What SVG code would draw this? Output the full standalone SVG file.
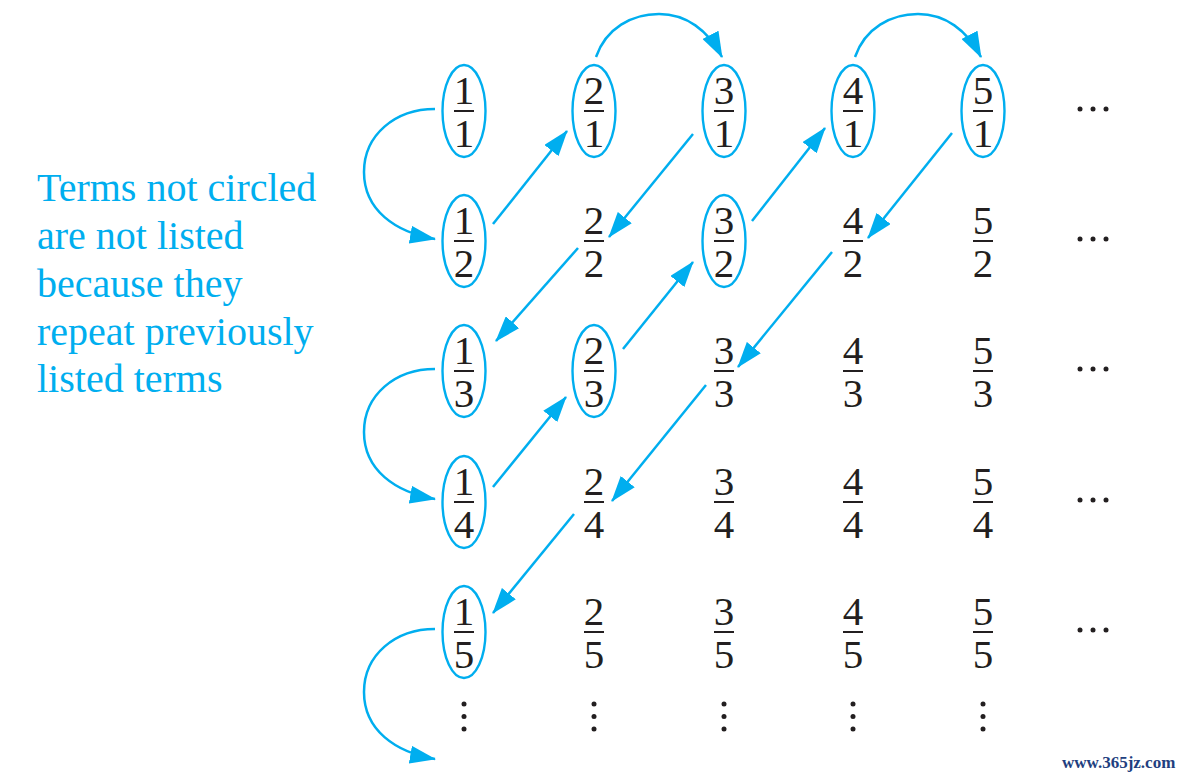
<svg xmlns="http://www.w3.org/2000/svg" width="1184" height="780" viewBox="0 0 1184 780">
<style>
  .fr { font-family: "Liberation Serif", "Times New Roman", serif; font-size: 41px; fill: #231f20; text-anchor: middle; }
  .bar { stroke: #231f20; stroke-width: 2; }
  .ring { fill: none; stroke: #00aeef; stroke-width: 2.4; }
  .dot { fill: #231f20; }
  .note { font-family: "Liberation Serif", "Times New Roman", serif; font-size: 40px; fill: #00aeef; }
  .conn { fill: none; stroke: #00aeef; stroke-width: 2.5; marker-end: url(#ah); }
  .wm { font-family: "Liberation Serif", serif; font-size: 17px; fill: #1f3f80; font-weight: bold; }
</style>
<defs>
  <marker id="ah" viewBox="0 0 26 18" refX="25" refY="9" markerWidth="26" markerHeight="18" markerUnits="userSpaceOnUse" orient="auto">
    <path d="M0,0 L26,9 L0,18 z" fill="#00aeef"/>
  </marker>
  <g id="vd"><circle cx="0" cy="704" r="2.5"/><circle cx="0" cy="716.5" r="2.5"/><circle cx="0" cy="729" r="2.5"/></g>
  <g id="hd"><circle cx="1080" cy="0" r="2.5"/><circle cx="1093" cy="0" r="2.5"/><circle cx="1106" cy="0" r="2.5"/></g>
</defs>
<rect width="1184" height="780" fill="#ffffff"/>

<g id="note">
  <text class="note" x="37" y="201">Terms not circled</text>
  <text class="note" x="37" y="249">are not listed</text>
  <text class="note" x="37" y="297">because they</text>
  <text class="note" x="37" y="345">repeat previously</text>
  <text class="note" x="37" y="392">listed terms</text>
</g>

<!-- row 1 -->
<g id="f1-1"><ellipse class="ring" cx="464" cy="111" rx="21.5" ry="46"/><text class="fr" x="464" y="104">1</text><line class="bar" x1="454" y1="111" x2="474" y2="111"/><text class="fr" x="464" y="147">1</text></g>
<g id="f2-1"><ellipse class="ring" cx="594" cy="111" rx="21.5" ry="46"/><text class="fr" x="594" y="104">2</text><line class="bar" x1="584" y1="111" x2="604" y2="111"/><text class="fr" x="594" y="147">1</text></g>
<g id="f3-1"><ellipse class="ring" cx="724" cy="111" rx="21.5" ry="46"/><text class="fr" x="724" y="104">3</text><line class="bar" x1="714" y1="111" x2="734" y2="111"/><text class="fr" x="724" y="147">1</text></g>
<g id="f4-1"><ellipse class="ring" cx="853" cy="111" rx="21.5" ry="46"/><text class="fr" x="853" y="104">4</text><line class="bar" x1="843" y1="111" x2="863" y2="111"/><text class="fr" x="853" y="147">1</text></g>
<g id="f5-1"><ellipse class="ring" cx="983" cy="111" rx="21.5" ry="46"/><text class="fr" x="983" y="104">5</text><line class="bar" x1="973" y1="111" x2="993" y2="111"/><text class="fr" x="983" y="147">1</text></g>
<g id="h1" class="dot"><use href="#hd" y="109"/></g>

<!-- row 2 -->
<g id="f1-2"><ellipse class="ring" cx="464" cy="241" rx="21.5" ry="46"/><text class="fr" x="464" y="234">1</text><line class="bar" x1="454" y1="241" x2="474" y2="241"/><text class="fr" x="464" y="277">2</text></g>
<g id="f2-2"><text class="fr" x="594" y="234">2</text><line class="bar" x1="584" y1="241" x2="604" y2="241"/><text class="fr" x="594" y="277">2</text></g>
<g id="f3-2"><ellipse class="ring" cx="724" cy="241" rx="21.5" ry="46"/><text class="fr" x="724" y="234">3</text><line class="bar" x1="714" y1="241" x2="734" y2="241"/><text class="fr" x="724" y="277">2</text></g>
<g id="f4-2"><text class="fr" x="853" y="234">4</text><line class="bar" x1="843" y1="241" x2="863" y2="241"/><text class="fr" x="853" y="277">2</text></g>
<g id="f5-2"><text class="fr" x="983" y="234">5</text><line class="bar" x1="973" y1="241" x2="993" y2="241"/><text class="fr" x="983" y="277">2</text></g>
<g id="h2" class="dot"><use href="#hd" y="239"/></g>

<!-- row 3 -->
<g id="f1-3"><ellipse class="ring" cx="464" cy="371" rx="21.5" ry="46"/><text class="fr" x="464" y="364">1</text><line class="bar" x1="454" y1="371" x2="474" y2="371"/><text class="fr" x="464" y="407">3</text></g>
<g id="f2-3"><ellipse class="ring" cx="594" cy="371" rx="21.5" ry="46"/><text class="fr" x="594" y="364">2</text><line class="bar" x1="584" y1="371" x2="604" y2="371"/><text class="fr" x="594" y="407">3</text></g>
<g id="f3-3"><text class="fr" x="724" y="364">3</text><line class="bar" x1="714" y1="371" x2="734" y2="371"/><text class="fr" x="724" y="407">3</text></g>
<g id="f4-3"><text class="fr" x="853" y="364">4</text><line class="bar" x1="843" y1="371" x2="863" y2="371"/><text class="fr" x="853" y="407">3</text></g>
<g id="f5-3"><text class="fr" x="983" y="364">5</text><line class="bar" x1="973" y1="371" x2="993" y2="371"/><text class="fr" x="983" y="407">3</text></g>
<g id="h3" class="dot"><use href="#hd" y="369"/></g>

<!-- row 4 -->
<g id="f1-4"><ellipse class="ring" cx="464" cy="502" rx="21.5" ry="46"/><text class="fr" x="464" y="495">1</text><line class="bar" x1="454" y1="502" x2="474" y2="502"/><text class="fr" x="464" y="538">4</text></g>
<g id="f2-4"><text class="fr" x="594" y="495">2</text><line class="bar" x1="584" y1="502" x2="604" y2="502"/><text class="fr" x="594" y="538">4</text></g>
<g id="f3-4"><text class="fr" x="724" y="495">3</text><line class="bar" x1="714" y1="502" x2="734" y2="502"/><text class="fr" x="724" y="538">4</text></g>
<g id="f4-4"><text class="fr" x="853" y="495">4</text><line class="bar" x1="843" y1="502" x2="863" y2="502"/><text class="fr" x="853" y="538">4</text></g>
<g id="f5-4"><text class="fr" x="983" y="495">5</text><line class="bar" x1="973" y1="502" x2="993" y2="502"/><text class="fr" x="983" y="538">4</text></g>
<g id="h4" class="dot"><use href="#hd" y="500"/></g>

<!-- row 5 -->
<g id="f1-5"><ellipse class="ring" cx="464" cy="632" rx="21.5" ry="46"/><text class="fr" x="464" y="625">1</text><line class="bar" x1="454" y1="632" x2="474" y2="632"/><text class="fr" x="464" y="668">5</text></g>
<g id="f2-5"><text class="fr" x="594" y="625">2</text><line class="bar" x1="584" y1="632" x2="604" y2="632"/><text class="fr" x="594" y="668">5</text></g>
<g id="f3-5"><text class="fr" x="724" y="625">3</text><line class="bar" x1="714" y1="632" x2="734" y2="632"/><text class="fr" x="724" y="668">5</text></g>
<g id="f4-5"><text class="fr" x="853" y="625">4</text><line class="bar" x1="843" y1="632" x2="863" y2="632"/><text class="fr" x="853" y="668">5</text></g>
<g id="f5-5"><text class="fr" x="983" y="625">5</text><line class="bar" x1="973" y1="632" x2="993" y2="632"/><text class="fr" x="983" y="668">5</text></g>
<g id="h5" class="dot"><use href="#hd" y="630"/></g>

<!-- vertical dots -->
<g id="v1" class="dot"><use href="#vd" x="464"/></g>
<g id="v2" class="dot"><use href="#vd" x="594"/></g>
<g id="v3" class="dot"><use href="#vd" x="724"/></g>
<g id="v4" class="dot"><use href="#vd" x="853"/></g>
<g id="v5" class="dot"><use href="#vd" x="983"/></g>

<g id="connectors">
  <path class="conn" d="M435,109 C395,109 364,135 364,172 C364,210 395,232 435,239"/>
  <path class="conn" d="M493,224 L567,131"/>
  <path class="conn" d="M596,57 C606,28 632,14 659,14 C686,14 708,30 722,57"/>
  <path class="conn" d="M693,134 L609,237"/>
  <path class="conn" d="M578,248 L496,341"/>
  <path class="conn" d="M435,369 C395,369 364,395 364,432 C364,470 395,492 435,499"/>
  <path class="conn" d="M493,487 L566,397"/>
  <path class="conn" d="M623,349 L693,262"/>
  <path class="conn" d="M752,221 L825,128"/>
  <path class="conn" d="M855,57 C865,28 891,14 918,14 C945,14 967,30 981,57"/>
  <path class="conn" d="M952,133 L868,238"/>
  <path class="conn" d="M832,252 L738,367"/>
  <path class="conn" d="M706,385 L612,501"/>
  <path class="conn" d="M574,514 L493,613"/>
  <path class="conn" d="M435,629 C395,629 364,655 364,692 C364,730 395,752 435,759"/>
</g>

<g id="watermark"><text class="wm" x="1062" y="768">www.365jz.com</text></g>
</svg>
